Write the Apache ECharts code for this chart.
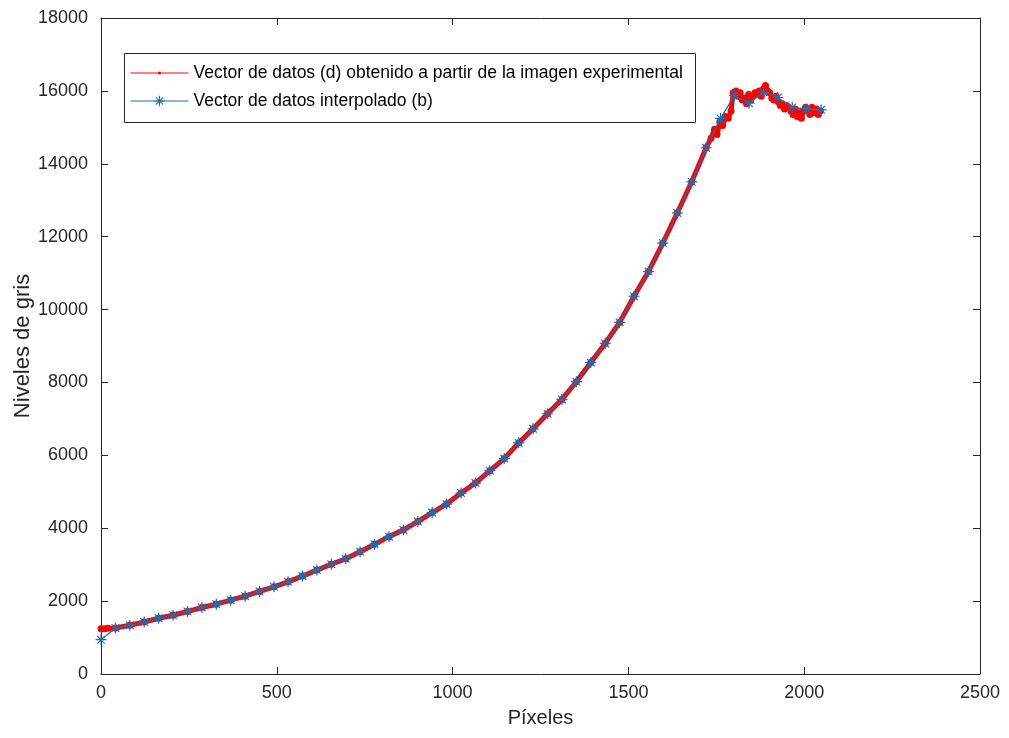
<!DOCTYPE html>
<html>
<head>
<meta charset="utf-8">
<script src="https://cdn.jsdelivr.net/npm/echarts@6/dist/echarts.min.js"></script>
<style>html,body{margin:0;padding:0;background:#fff;}#c{width:1009px;height:738px;}</style>
</head>
<body>
<div id="c"></div>
<script>
// Tick values
const xTicks = [0, 500, 1000, 1500, 2000, 2500];
const yTicks = [0, 2000, 4000, 6000, 8000, 10000, 12000, 14000, 16000, 18000];

// Interpolated vector (b) – blue stars
const blueX = [0,41,82,123,164,205,246,287,328,369,410,451,492,532,573,614,655,696,737,778,819,860,901,942,983,1024,1065,1106,1147,1188,1229,1270,1311,1352,1393,1434,1475,1516,1557,1598,1639,1680,1721,1762,1802,1843,1884,1925,1966,2007,2048];
const blueY = [942,1262,1336,1427,1529,1612,1714,1824,1915,2025,2135,2265,2391,2529,2686,2851,3012,3160,3356,3559,3769,3953,4182,4430,4662,4965,5240,5579,5910,6342,6728,7141,7535,8020,8546,9070,9648,10365,11042,11825,12651,13505,14440,15244,15875,15662,15965,15819,15544,15505,15480];

// Experimental data vector (d) – red
const redX = [0,10,20,41,82,123,164,205,246,287,328,369,410,451,492,532,573,614,655,696,737,778,819,860,901,942,983,1024,1065,1106,1147,1188,1229,1270,1311,1352,1393,1434,1475,1516,1557,1598,1639,1680,1721,
  1735,1745,1752,1760,1768,1776,1784,1792,1798,1806,1812,1818,1824,1830,1836,1842,1848,1854,1860,1866,1872,1878,1884,1890,1896,1902,1908,1914,1920,1926,1932,1938,1944,1950,1956,1962,1968,1974,1980,1986,1992,1998,2004,2010,2016,2022,2028,2034,2040,2046];
const redY = [1240,1245,1252,1262,1336,1427,1529,1612,1714,1824,1915,2025,2135,2265,2391,2529,2686,2851,3012,3160,3356,3559,3769,3953,4182,4430,4662,4965,5240,5579,5910,6342,6728,7141,7535,8020,8546,9070,9648,10365,11042,11825,12651,13505,14440,
  14700,14950,14800,15150,15050,15300,15250,15450,15950,16000,15850,15950,15750,15800,15650,15900,15750,15850,15950,15900,16000,15850,16050,16150,16000,15950,15800,15750,15850,15700,15600,15650,15500,15600,15550,15450,15350,15500,15300,15400,15250,15450,15550,15500,15350,15550,15400,15500,15350,15450];

const seriesNames = ['Vector de datos (d) obtenido a partir de la imagen experimental', 'Vector de datos interpolado (b)'];
const xName = 'Píxeles';
const yName = 'Niveles de gris';

const redData = redX.map((x, i) => [x, redY[i]]);
const blueData = blueX.map((x, i) => [x, blueY[i]]);

const star = 'path://M-0.55,-5 L0.55,-5 L0.55,5 L-0.55,5 Z M-5,-0.55 L5,-0.55 L5,0.55 L-5,0.55 Z M-3.146,-3.854 L3.854,3.146 L3.146,3.854 L-3.854,-3.146 Z M-3.854,3.146 L3.146,-3.854 L3.854,-3.146 L-3.146,3.854 Z';

const axisColor = '#262626';
const font = 'Liberation Sans, Arial, Helvetica, sans-serif';
const plain = v => String(v);

const chart = echarts.init(document.getElementById('c'), null, {renderer: 'canvas'});
function axis(extra) {
  return Object.assign({
    type: 'value',
    axisLine: {show: true, onZero: false, lineStyle: {color: axisColor, width: 1}},
    axisTick: {show: true, inside: true, length: 7, lineStyle: {color: axisColor}},
    splitLine: {show: false}
  }, extra);
}
const legendText = {fontFamily: font, fontSize: 17.5, color: '#000000'};
chart.setOption({
  backgroundColor: '#ffffff',
  animation: false,
  grid: {left: 101, right: 29, top: 18, bottom: 64, containLabel: false, outerBoundsMode: 'none'},
  xAxis: [
    axis({
      min: xTicks[0], max: xTicks[xTicks.length - 1], interval: 500, position: 'bottom',
      name: xName, nameLocation: 'middle', nameGap: 34, nameMoveOverlap: false,
      nameTextStyle: {fontFamily: font, fontSize: 20, color: axisColor},
      axisLabel: {margin: 10, fontFamily: font, fontSize: 18, color: axisColor, formatter: plain}
    }),
    axis({
      min: xTicks[0], max: xTicks[xTicks.length - 1], interval: 500, position: 'top',
      axisLabel: {show: false}
    })
  ],
  yAxis: [
    axis({
      min: yTicks[0], max: yTicks[yTicks.length - 1], interval: 2000, position: 'left',
      name: yName, nameLocation: 'middle', nameGap: 67, nameMoveOverlap: false,
      nameTextStyle: {fontFamily: font, fontSize: 22, color: axisColor},
      axisLabel: {margin: 13, fontFamily: font, fontSize: 18, color: axisColor, formatter: plain}
    }),
    axis({
      min: yTicks[0], max: yTicks[yTicks.length - 1], interval: 2000, position: 'right',
      axisLabel: {show: false}
    })
  ],
  graphic: [{
    type: 'rect', z: 3,
    shape: {x: 124.5, y: 53.5, width: 571, height: 69},
    style: {fill: '#ffffff', stroke: axisColor, lineWidth: 1}
  }],
  legend: [
    {
      orient: 'vertical', left: 130, top: 64, padding: 0, z: 6,
      data: [seriesNames[0]],
      itemWidth: 58, itemHeight: 4,
      lineStyle: {width: 1},
      textStyle: legendText
    },
    {
      orient: 'vertical', left: 130, top: 92, padding: 0, z: 6,
      data: [seriesNames[1]],
      itemWidth: 58, itemHeight: 13,
      lineStyle: {width: 1},
      textStyle: legendText
    }
  ],
  series: [
    {
      name: seriesNames[0], type: 'line', data: redData,
      color: '#ff0000',
      lineStyle: {color: '#ff0000', width: 5},
      symbol: 'circle', symbolSize: 7, showSymbol: true,
      itemStyle: {color: '#ff0000'},
      z: 2
    },
    {
      name: seriesNames[1], type: 'line', data: blueData,
      color: '#1f6fae',
      lineStyle: {color: '#1f6fae', width: 1.3},
      symbol: star, symbolSize: 11, showSymbol: true,
      itemStyle: {color: '#1f6fae'},
      z: 3
    }
  ]
});
</script>
</body>
</html>
